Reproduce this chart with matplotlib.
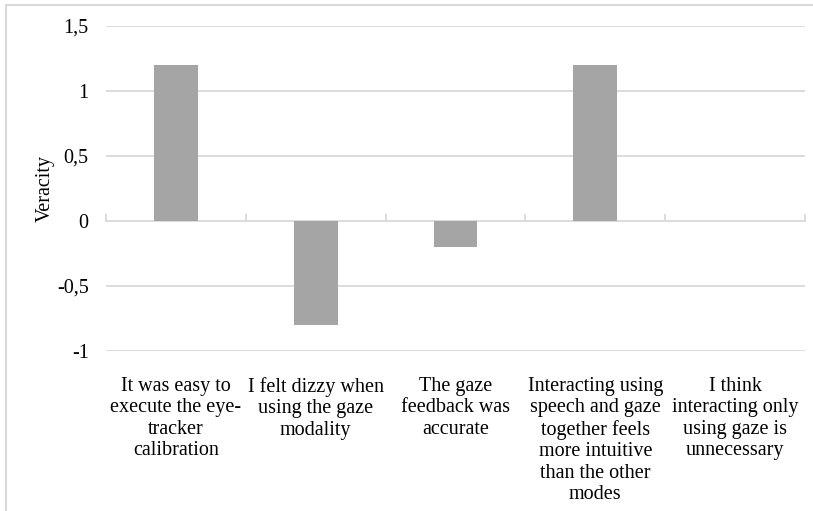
import numpy as np
import matplotlib.pyplot as plt
from matplotlib.lines import Line2D
from matplotlib.ticker import FuncFormatter

statements = [
    "It was easy to\nexecute the eye-\ntracker\ncalibration",
    "I felt dizzy when\nusing the gaze\nmodality",
    "The gaze\nfeedback was\naccurate",
    "Interacting using\nspeech and gaze\ntogether feels\nmore intuitive\nthan the other\nmodes",
    "I think\ninteracting only\nusing gaze is\nunnecessary",
]
veracity = [1.2, -0.8, -0.2, 1.2, 0.0]
yticks = [-1, -0.5, 0, 0.5, 1, 1.5]

plt.rcParams['font.family'] = ['Liberation Serif', 'DejaVu Serif']
grid_col = '#D9D9D9'
fs = 14.5

fig = plt.figure(figsize=(8.13, 5.11), dpi=100)
ax = fig.add_axes([106 / 813, 1 - 351 / 511, 699 / 813, 325 / 511])

x = np.arange(len(statements))
ax.bar(x, veracity, width=0.314, color='#A5A5A5', zorder=3)

ax.set_xlim(-0.5, len(statements) - 0.5)
ax.set_ylim(-1, 1.5)
ax.set_yticks(yticks)
ax.yaxis.set_major_formatter(FuncFormatter(lambda v, p: f"{v:g}".replace('.', ',')))
for y in yticks:
    if y != 0:
        ax.axhline(y, color=grid_col, lw=1.3, zorder=1)

for s in ax.spines.values():
    s.set_visible(False)
ax.tick_params(axis='y', length=0, pad=12.5, labelsize=fs, colors='#000000')
ax.set_xticks(x)
ax.set_xticklabels(statements, fontsize=fs, linespacing=1.18, va='top')
ax.tick_params(axis='x', length=0, pad=18.5)
ax.set_ylabel('Veracity', fontsize=fs, labelpad=1.5)

# category axis drawn through zero with small upward ticks at boundaries
zax = ax.secondary_xaxis(0.4)
zax.spines['bottom'].set_color(grid_col)
zax.spines['bottom'].set_linewidth(1.3)
zax.set_xticks(np.arange(len(statements) + 1) - 0.5)
zax.tick_params(axis='x', direction='in', length=5, width=1.3, color=grid_col, labelbottom=False)

# chart frame (top and left edges)
fig.add_artist(Line2D([5.5 / 813, 5.5 / 813], [0, 1 - 5.5 / 511], color=grid_col, lw=1.5, transform=fig.transFigure))
fig.add_artist(Line2D([5.5 / 813, 1], [1 - 5.5 / 511, 1 - 5.5 / 511], color=grid_col, lw=1.5, transform=fig.transFigure))

fig.savefig('out.png', dpi=100)
